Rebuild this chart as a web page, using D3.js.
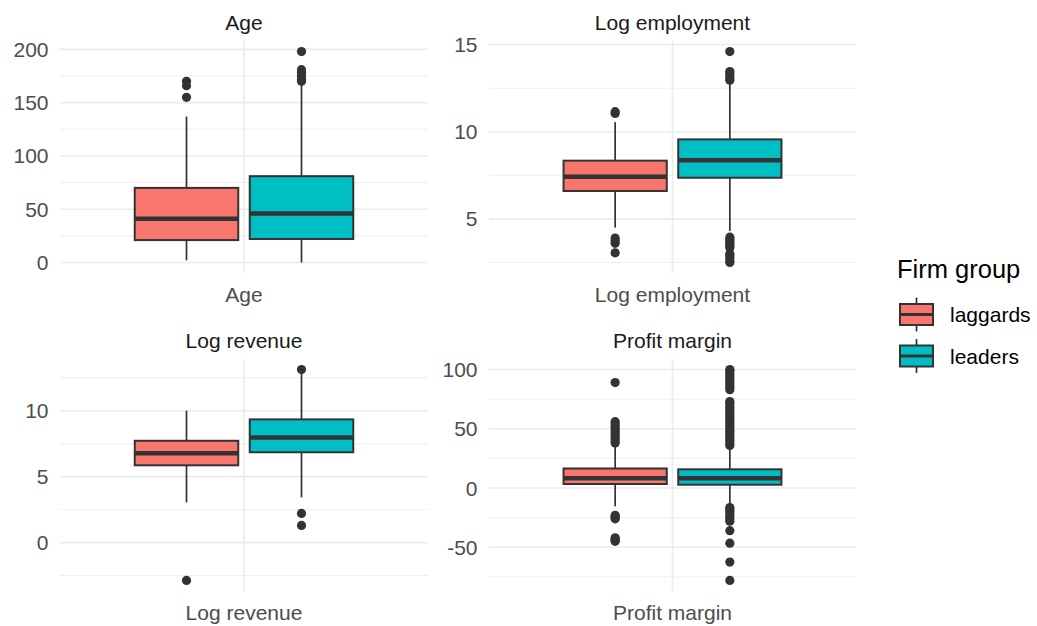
<!DOCTYPE html>
<html>
<head>
<meta charset="utf-8">
<script src="https://cdn.jsdelivr.net/npm/d3@7/dist/d3.min.js"></script>
<style>
  html, body { margin: 0; padding: 0; background: #ffffff; }
  svg { display: block; font-family: "Liberation Sans", Arial, sans-serif; }
</style>
</head>
<body>
<svg id="chart" width="1037" height="626"></svg>
<script>
// Facet variables and firm groups
const variables = ["Age", "Log employment", "Log revenue", "Profit margin"];
const groups = ["laggards", "leaders"];
const groupFills = ["#F8766D", "#00BFC4"];

// Box summaries: [lower whisker, Q1, median, Q3, upper whisker]
const ageLaggards = [2, 21, 41, 70, 137];
const ageLeaders = [0, 22, 46, 81, 167];
const logEmpLaggards = [4.5, 6.6, 7.42, 8.34, 10.55];
const logEmpLeaders = [4.3, 7.36, 8.36, 9.56, 12.8];
const logRevLaggards = [3.05, 5.86, 6.78, 7.72, 10.0];
const logRevLeaders = [3.43, 6.85, 7.97, 9.34, 12.9];
const profitLaggards = [-15.5, 3.4, 8.3, 16.5, 35];
const profitLeaders = [-13.5, 2.8, 8.3, 15.8, 34];

// Points beyond the whiskers
const ageLaggardsOut = [155, 166, 170];
const ageLeadersOut = [170, 172, 175, 178, 181, 198];
const logEmpLaggardsOut = [3.05, 3.6, 3.75, 3.9, 11.05, 11.15];
const logEmpLeadersOut = [2.5, 2.6, 2.75, 2.9, 3.0, 3.35, 3.45, 3.55, 3.65, 3.75, 3.85, 3.95,
  12.95, 13.05, 13.2, 13.35, 13.45, 14.6];
const logRevLaggardsOut = [-2.87];
const logRevLeadersOut = [1.3, 2.21, 13.12];
const profitLaggardsOut = [-45, -44, -43, -42, -26, -25, -24, -23,
  38, 40, 42, 44, 46, 48, 50, 52, 54, 56, 89];
const profitLeadersOut = [-78, -62.5, -46.5, -36, -28, -26, -24, -22, -20, -18, -16.5,
  36, 38, 40, 42, 44, 46, 48, 50, 52, 54, 56, 58, 60, 62, 64, 66, 68, 70, 72, 73,
  83, 85, 87, 89, 91, 93, 95, 97, 99, 100];

// Axis ticks per facet
const ageTicks = [0, 50, 100, 150, 200];
const ageMinor = [25, 75, 125, 175];
const logEmpTicks = [5, 10, 15];
const logEmpMinor = [2.5, 7.5, 12.5];
const logRevTicks = [0, 5, 10];
const logRevMinor = [-2.5, 2.5, 7.5, 12.5];
const profitTicks = [-50, 0, 50, 100];
const profitMinor = [-75, -25, 25, 75];

const panels = [
  { name: variables[0], stats: [ageLaggards, ageLeaders], out: [ageLaggardsOut, ageLeadersOut], ticks: ageTicks, minor: ageMinor },
  { name: variables[1], stats: [logEmpLaggards, logEmpLeaders], out: [logEmpLaggardsOut, logEmpLeadersOut], ticks: logEmpTicks, minor: logEmpMinor },
  { name: variables[2], stats: [logRevLaggards, logRevLeaders], out: [logRevLaggardsOut, logRevLeadersOut], ticks: logRevTicks, minor: logRevMinor },
  { name: variables[3], stats: [profitLaggards, profitLeaders], out: [profitLaggardsOut, profitLeadersOut], ticks: profitTicks, minor: profitMinor }
];

const svg = d3.select("#chart");

// Facet grid geometry
const colX = [[60, 428], [489, 856]];
const rowY = [[41, 273], [359, 591]];

const ink = "#333333";
const gridColor = "#EBEBEB";

// Dodge layout within the single discrete x position
const dodge = 0.1875;
const halfBox = 0.16875;

panels.forEach((p, i) => {
  const [x0, x1] = colX[i % 2];
  const [y0, y1] = rowY[Math.floor(i / 2)];
  const g = svg.append("g");

  const all = p.stats.flat().concat(p.out.flat());
  const [lo, hi] = d3.extent(all);
  const pad = (hi - lo) * 0.05;
  const y = d3.scaleLinear().domain([lo - pad, hi + pad]).range([y1, y0]);
  const x = d3.scaleLinear().domain([-0.6, 0.6]).range([x0, x1]);

  // minor grid
  g.selectAll(".minor").data(p.minor).join("line")
    .attr("x1", x0).attr("x2", x1)
    .attr("y1", d => y(d)).attr("y2", d => y(d))
    .attr("stroke", gridColor).attr("stroke-width", 0.8);
  // major grid
  g.selectAll(".major").data(p.ticks).join("line")
    .attr("x1", x0).attr("x2", x1)
    .attr("y1", d => y(d)).attr("y2", d => y(d))
    .attr("stroke", gridColor).attr("stroke-width", 1.6);
  g.append("line")
    .attr("x1", x(0)).attr("x2", x(0)).attr("y1", y0).attr("y2", y1)
    .attr("stroke", gridColor).attr("stroke-width", 1.6);

  // y tick labels
  g.selectAll(".ytick").data(p.ticks).join("text")
    .attr("x", x0 - 11.5).attr("y", d => y(d)).attr("dy", "0.36em")
    .attr("text-anchor", "end").attr("font-size", 21).attr("fill", "#4D4D4D")
    .text(d => d);

  // x category label
  g.append("text").attr("x", x(0)).attr("y", y1 + 28.5)
    .attr("text-anchor", "middle").attr("font-size", 21).attr("fill", "#4D4D4D")
    .text(p.name);

  // strip title
  g.append("text").attr("x", x(0)).attr("y", y0 - 11.5)
    .attr("text-anchor", "middle").attr("font-size", 21).attr("fill", "#1A1A1A")
    .text(p.name);

  groups.forEach((grp, k) => {
    const s = p.stats[k];
    const cx = x(k === 0 ? -dodge : dodge);
    const bx0 = x((k === 0 ? -dodge : dodge) - halfBox);
    const bx1 = x((k === 0 ? -dodge : dodge) + halfBox);
    // whiskers
    g.append("line").attr("x1", cx).attr("x2", cx).attr("y1", y(s[0])).attr("y2", y(s[1]))
      .attr("stroke", ink).attr("stroke-width", 1.7);
    g.append("line").attr("x1", cx).attr("x2", cx).attr("y1", y(s[3])).attr("y2", y(s[4]))
      .attr("stroke", ink).attr("stroke-width", 1.7);
    // box
    g.append("rect").attr("x", bx0).attr("width", bx1 - bx0)
      .attr("y", y(s[3])).attr("height", y(s[1]) - y(s[3]))
      .attr("fill", groupFills[k]).attr("stroke", ink).attr("stroke-width", 2);
    // median
    g.append("line").attr("x1", bx0).attr("x2", bx1).attr("y1", y(s[2])).attr("y2", y(s[2]))
      .attr("stroke", ink).attr("stroke-width", 4.5);
    // outliers
    g.selectAll(".out" + k).data(p.out[k]).join("circle")
      .attr("cx", cx).attr("cy", d => y(d)).attr("r", 4.6)
      .attr("fill", ink);
  });
});

// Legend
const legend = svg.append("g");
legend.append("text").attr("x", 897).attr("y", 278)
  .attr("font-size", 25.5).attr("fill", "#000000").text("Firm group");
const keyCenters = [314.5, 356];
groups.forEach((grp, k) => {
  const cy = keyCenters[k];
  const kx0 = 900, kx1 = 933, kc = (kx0 + kx1) / 2;
  legend.append("line").attr("x1", kc).attr("x2", kc).attr("y1", cy - 17).attr("y2", cy + 17)
    .attr("stroke", ink).attr("stroke-width", 1.7);
  legend.append("rect").attr("x", kx0).attr("y", cy - 10.5).attr("width", kx1 - kx0).attr("height", 21)
    .attr("fill", groupFills[k]).attr("stroke", ink).attr("stroke-width", 2);
  legend.append("line").attr("x1", kx0).attr("x2", kx1).attr("y1", cy).attr("y2", cy)
    .attr("stroke", ink).attr("stroke-width", 3);
  legend.append("text").attr("x", 950).attr("y", cy).attr("dy", "0.36em")
    .attr("font-size", 21).attr("fill", "#000000").text(grp);
});
</script>
</body>
</html>
